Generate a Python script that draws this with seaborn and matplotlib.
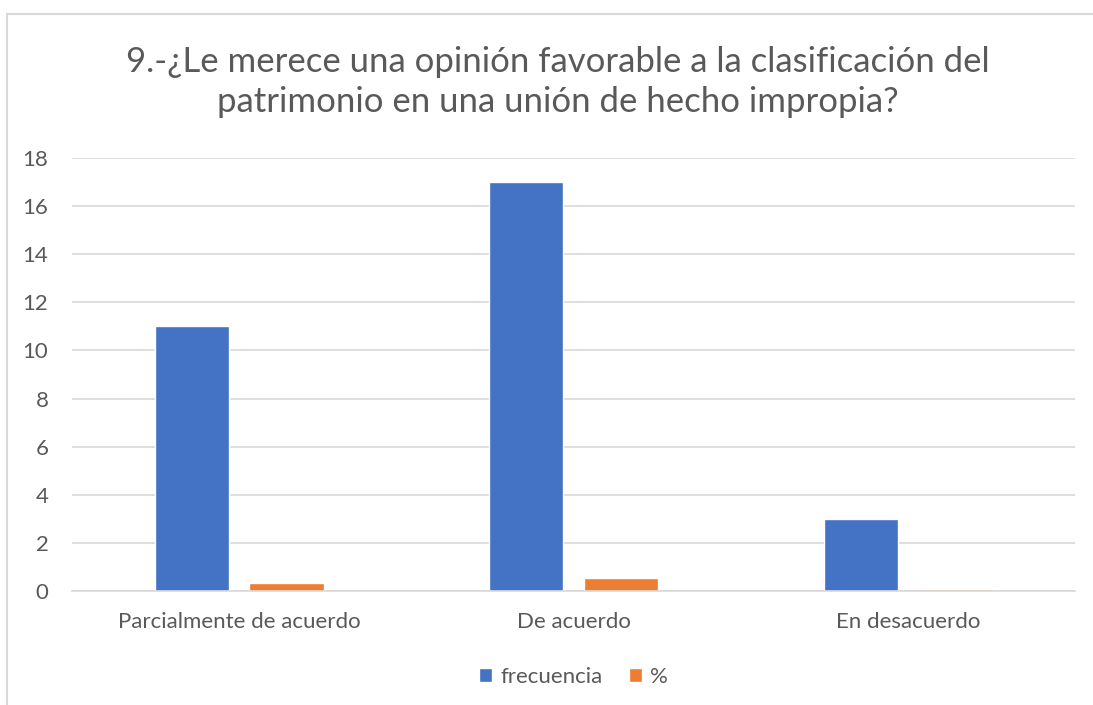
import pandas as pd
import seaborn as sns
import matplotlib.pyplot as plt
from matplotlib.patches import Rectangle

# Datos
categorias = ["Parcialmente de acuerdo", "De acuerdo", "En desacuerdo"]
frecuencia = [11, 17, 3]
porcentaje = [0.35, 0.55, 0.1]
series = ["frecuencia", "%"]
colores = ["#4472C4", "#ED7D31"]
yticks = [0, 2, 4, 6, 8, 10, 12, 14, 16, 18]

df = pd.DataFrame({
    "categoria": categorias * 2,
    "serie": [series[0]] * 3 + [series[1]] * 3,
    "valor": frecuencia + porcentaje,
})

sns.set_style("white")
plt.rcParams['font.family'] = ['Lato', 'DejaVu Sans']
gris = "#595959"

fig = plt.figure(figsize=(10.93, 7.05), dpi=100)
ax = fig.add_axes([0.0659, 0.1617, 0.9177, 0.6142])

sns.barplot(data=df, x="categoria", y="valor", hue="serie", order=categorias,
            hue_order=series, palette=colores, width=0.566, gap=0.217,
            saturation=1, legend=True, ax=ax)

ax.set_ylim(0, 18)
ax.set_xlim(-0.5, 2.5)
ax.set_yticks(yticks)
ax.yaxis.grid(True, color="#d9d9d9", linewidth=1.2)
ax.set_axisbelow(True)
for s in ["top", "right", "left"]:
    ax.spines[s].set_visible(False)
ax.spines["bottom"].set_color("#d9d9d9")
ax.spines["bottom"].set_linewidth(1.2)
ax.tick_params(axis="y", length=0, pad=17, labelsize=16, labelcolor=gris)
ax.tick_params(axis="x", length=0, pad=15, labelsize=16, labelcolor=gris)
ax.set_xlabel("")
ax.set_ylabel("")

leg = ax.legend(loc="center", bbox_to_anchor=(0.5, -0.198), ncol=2, frameon=False,
                fontsize=16, handlelength=0.6, handleheight=0.6,
                handletextpad=0.35, columnspacing=1.2)
for t in leg.get_texts():
    t.set_color(gris)

fig.text(0.51, 0.884, "9.-¿Le merece una opinión favorable a la clasificación del\n"
         "patrimonio en una unión de hecho impropia?",
         ha="center", va="center", fontsize=25, color=gris, linespacing=1.32)

# borde del área del gráfico
fig.patches.append(Rectangle((7 / 1093, -0.05), 1.1, 1.05 - 14 / 705,
                             transform=fig.transFigure, fill=False,
                             edgecolor="#d9d9d9", linewidth=1.5))

fig.savefig("out.png", dpi=100)
